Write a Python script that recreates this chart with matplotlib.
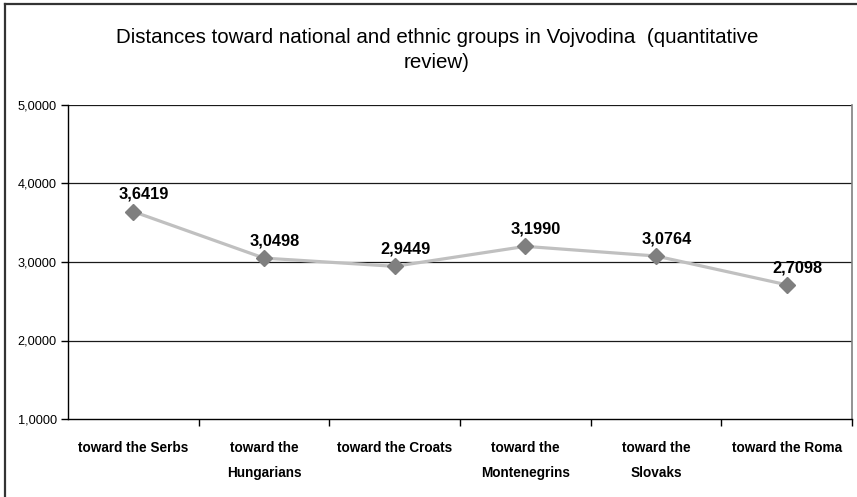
import matplotlib
matplotlib.use("Agg")
import matplotlib.pyplot as plt
from matplotlib.ticker import FixedLocator

categories = ["toward the Serbs", "toward the\nHungarians", "toward the Croats",
              "toward the\nMontenegrins", "toward the\nSlovaks", "toward the Roma"]
values = [3.6419, 3.0498, 2.9449, 3.1990, 3.0764, 2.7098]
value_labels = ["3,6419", "3,0498", "2,9449", "3,1990", "3,0764", "2,7098"]
y_ticks = [1, 2, 3, 4, 5]
y_tick_labels = ["1,0000", "2,0000", "3,0000", "4,0000", "5,0000"]
title = "Distances toward national and ethnic groups in Vojvodina  (quantitative\nreview)"

W, H = 857, 497
fig = plt.figure(figsize=(W / 100, H / 100), dpi=100)

regular = ["Liberation Sans", "DejaVu Sans"]

# outer frame (left and top visible)
fig.add_artist(plt.Line2D([5 / W, 5 / W], [0, 1 - 4 / H], transform=fig.transFigure,
                          color="#333333", lw=1.6))
fig.add_artist(plt.Line2D([5 / W, 1], [1 - 4 / H, 1 - 4 / H], transform=fig.transFigure,
                          color="#333333", lw=1.6))

left, right, top, bottom = 68, 852, 105, 419
ax = fig.add_axes([left / W, 1 - bottom / H, (right - left) / W, (bottom - top) / H])

x = list(range(len(categories)))
ax.plot(x, values, color="#c0c0c0", lw=2.3, zorder=3, clip_on=False)
ax.plot(x, values, ls="none", marker="D", markersize=8.5, color="#7f7f7f", zorder=4,
        clip_on=False)
for xi, v, lab in zip(x, values, value_labels):
    ax.annotate(lab, (xi, v), xytext=(7.5, 7), textcoords="offset points",
                ha="center", va="bottom", fontsize=11.8, fontweight="bold",
                family=regular, color="black", zorder=5)

ax.set_xlim(-0.5, len(categories) - 0.5)
ax.set_ylim(1, 5)
ax.set_yticks(y_ticks)
ax.set_yticklabels(y_tick_labels, family=regular, fontsize=9.2)
ax.tick_params(axis="y", direction="out", length=5, width=1, color="black", pad=3)
for yv in y_ticks[1:]:
    ax.axhline(yv, color="#1a1a1a", lw=0.9, zorder=1)

ax.set_xticks(x)
ax.set_xticklabels(categories, family=regular, fontsize=9.8, fontweight="bold",
                   linespacing=2.0, va="top")
ax.tick_params(axis="x", which="major", length=0, pad=16)
ax.xaxis.set_minor_locator(FixedLocator([i + 0.5 for i in range(len(categories))]))
ax.tick_params(axis="x", which="minor", direction="out", length=5, width=1, color="black")

ax.spines["top"].set_visible(False)
ax.spines["right"].set_color("#808080")
ax.spines["right"].set_linewidth(1.2)
ax.spines["left"].set_color("black")
ax.spines["bottom"].set_color("black")
ax.spines["left"].set_linewidth(1)
ax.spines["bottom"].set_linewidth(1)

fig.text(437 / W, 1 - 50 / H, title, ha="center", va="center", fontsize=14.8,
         family=regular, linespacing=1.35)

fig.savefig("out.png", dpi=100)
